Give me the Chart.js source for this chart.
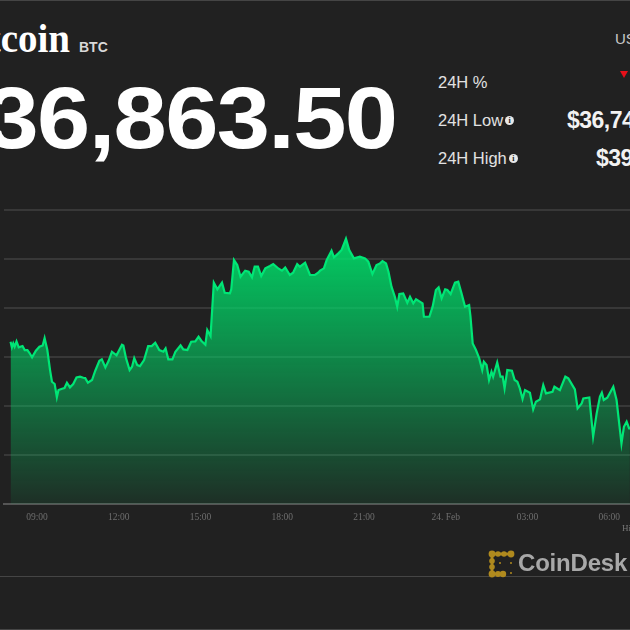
<!DOCTYPE html>
<html>
<head>
<meta charset="utf-8">
<title>Bitcoin BTC</title>
<script src="https://cdn.jsdelivr.net/npm/chart.js@4/dist/chart.umd.min.js"></script>
<style>
html, body { margin: 0; width: 630px; height: 630px; overflow: hidden; background: #212121; }
#pagina { position: relative; width: 630px; height: 630px; overflow: hidden; font-family: "Liberation Sans", sans-serif; }
#pagina div { position: absolute; white-space: nowrap; }
#grafiek { position: absolute; left: 0; top: 200px; }
.lijn { left: 0; width: 630px; height: 1px; background: #454545; }
.stat { left: 438px; font-size: 16.5px; color: #e2e2e2; line-height: 18px; }
.stat i { display: inline-block; width: 9px; height: 9px; line-height: 9px; margin-left: 2px; border-radius: 50%; background: #e8e8e8; color: #212121; font: bold 8px "Liberation Serif", serif; text-align: center; vertical-align: 3px; }
.waarde { font-size: 23px; font-weight: bold; color: #f2f2f2; letter-spacing: -0.5px; line-height: 24px; }
</style>
</head>
<body>
<div id="pagina">
    <div class="lijn" style="top:0"></div>
    <div id="naam" style="right:560px;top:15px;font:bold 39px/48px 'Liberation Serif',serif;color:#fff">Bitcoin</div>
    <div style="left:79px;top:39px;font:bold 14px/16px 'Liberation Sans',sans-serif;color:#d8d8d8">BTC</div>
    <div id="prijs" style="right:234px;top:70px;font:bold 87px/96px 'Liberation Sans',sans-serif;color:#fff;letter-spacing:-1.5px;transform:scaleX(1.1);transform-origin:right center">$36,863.50</div>
    <div style="left:615px;top:30px;font-size:15px;line-height:17px;color:#c8c8c8">USD</div>
    <div class="stat" style="top:73px">24H %</div>
    <div style="left:620px;top:71px;width:0;height:0;border-left:4px solid transparent;border-right:4px solid transparent;border-top:7px solid #e8101a"></div>
    <div class="stat" style="top:111px">24H Low<i>i</i></div>
    <div class="waarde" style="left:567px;top:108px">$36,74</div>
    <div class="stat" style="top:149px">24H High<i>i</i></div>
    <div class="waarde" style="left:596px;top:146px">$39</div>
    <canvas id="grafiek" width="640" height="350"></canvas>
    <div style="left:622px;top:523px;font:9px/10px 'Liberation Serif',serif;color:#777">Highcharts</div>
    <div class="lijn" style="top:576px"></div>
    <div class="lijn" style="top:629px"></div>
    <svg style="position:absolute;left:486px;top:549px" width="30" height="30" viewBox="0 0 30 30">
        <g fill="#b08a1e">
            <circle cx="6" cy="5" r="3.4"/><circle cx="12" cy="5" r="2.8"/><circle cx="18" cy="5" r="2.8"/><circle cx="25" cy="5" r="3.4"/>
            <rect x="6" y="3.6" width="19" height="2.8"/>
            <circle cx="6" cy="12" r="2.8"/><circle cx="6" cy="18" r="2.8"/><circle cx="6" cy="25" r="3.4"/><circle cx="12" cy="25" r="3"/><circle cx="17" cy="25" r="3.2"/>
            <rect x="4.6" y="5" width="2.8" height="20"/><rect x="6" y="23.6" width="11" height="2.8"/>
            <circle cx="14" cy="14" r="1"/><circle cx="25" cy="14" r="1"/><circle cx="25" cy="24" r="1"/>
        </g>
    </svg>
    <div style="left:518px;top:546px;font:bold 24px/34px 'Liberation Sans',sans-serif;color:#a8a8a8;letter-spacing:-0.2px">CoinDesk</div>
</div>
<script>
// uren sinds 00:00 op 23 feb, 24 = 24. Feb 00:00
const uren = [8.03,8.08,8.13,8.18,8.25,8.33,8.47,8.55,8.65,8.72,8.82,8.96,9.09,9.21,9.28,9.38,9.48,9.55,9.65,9.73,9.79,9.92,
    10.01,10.10,10.21,10.33,10.45,10.58,10.70,10.77,10.87,11.02,11.14,11.29,11.38,11.51,11.63,11.75,11.92,
    12.12,12.17,12.27,12.40,12.49,12.57,12.68,12.78,12.93,13.08,13.21,13.34,13.49,13.64,13.72,13.82,13.97,
    14.08,14.27,14.37,14.52,14.66,14.81,14.93,15.03,15.18,15.25,15.37,15.49,15.62,15.79,15.89,
    16.08,16.13,16.23,16.35,16.47,16.64,16.77,16.89,16.99,17.11,17.23,17.38,17.55,17.67,17.87,17.99,
    18.11,18.28,18.40,18.55,18.65,18.84,19.02,19.20,19.32,19.39,19.53,19.63,19.81,19.90,
    20.06,20.18,20.34,20.46,20.63,20.85,21.04,21.16,21.31,21.46,21.59,21.68,21.81,21.90,
    22.01,22.14,22.22,22.30,22.44,22.59,22.69,22.81,22.91,23.15,23.20,23.40,23.52,23.64,23.74,23.85,23.98,
    24.06,24.18,24.34,24.46,24.58,24.71,24.86,24.91,24.99,25.11,25.23,25.34,25.40,25.50,25.59,25.68,25.74,25.89,
    26.01,26.09,26.16,26.26,26.43,26.53,26.63,26.72,26.82,26.91,27.09,27.21,27.31,27.46,27.58,27.68,27.92,27.99,
    28.19,28.39,28.50,28.74,28.84,28.99,29.05,29.27,29.41,29.54,29.66,29.73,29.80,29.93,
    30.15,30.27,30.45,30.54,30.64,30.73,30.76];
const prijzen = [37987,37918,37967,37926,37991,37918,37934,37885,37885,37852,37795,37877,37926,37942,38032,37885,37640,37497,37469,37306,37395,37412,
    37420,37485,37428,37469,37550,37559,37546,37542,37485,37518,37632,37754,37771,37673,37754,37865,37820,
    37950,37942,37783,37640,37681,37787,37701,37689,37763,37934,37934,37975,37885,37865,37905,37771,37771,
    37865,37942,37893,37885,37987,37991,38048,38000,37950,38130,38057,38710,38628,38710,38587,
    38579,38628,38987,38926,38783,38857,38844,38775,38906,38906,38791,38885,38914,38938,38881,38857,
    38897,38804,38832,38938,38906,38955,38804,38804,38832,38857,38885,38987,39102,39020,
    39069,39110,39248,39110,39008,39028,39008,38967,38816,38926,38946,38975,38946,38844,
    38661,38530,38416,38571,38579,38465,38538,38457,38506,38457,38293,38293,38416,38620,38653,38518,38628,
    38620,38571,38710,38722,38579,38416,38436,38293,37967,37885,37783,37640,37742,37701,37518,37620,37559,37734,
    37559,37559,37416,37640,37632,37518,37497,37416,37285,37395,37363,37158,37252,37281,37456,37354,37375,37436,
    37395,37559,37538,37403,37171,37232,37293,37305,36824,37110,37314,37363,37273,37301,
    37436,37273,36742,36946,37007,36926,36946];
const tickUren = [9, 12, 15, 18, 21, 24, 27, 30];
const tickLabels = ['09:00', '12:00', '15:00', '18:00', '21:00', '24. Feb', '03:00', '06:00'];
const rasterWaarden = [36000, 36600, 37200, 37800, 38400, 39000, 39600];

function maakVulling(context) {
    const { ctx, chartArea } = context.chart;
    if (!chartArea) return 'rgba(0,220,105,0.5)';
    const g = ctx.createLinearGradient(0, chartArea.top, 0, chartArea.bottom);
    g.addColorStop(0, 'rgba(0,222,106,1)');
    g.addColorStop(1, 'rgba(0,222,106,0.08)');
    return g;
}

new Chart(document.getElementById('grafiek'), {
    type: 'line',
    data: {
        datasets: [{
            data: uren.map((u, i) => ({ x: u, y: prijzen[i] })),
            borderColor: '#00e676',
            borderWidth: 2.2,
            backgroundColor: maakVulling,
            fill: 'start',
            tension: 0,
            pointRadius: 0
        }]
    },
    options: {
        responsive: false,
        animation: false,
        layout: { padding: { left: 4, top: 10, right: 0, bottom: 0 } },
        plugins: { legend: { display: false }, tooltip: { enabled: false } },
        scales: {
            x: {
                type: 'linear',
                min: 7.79,
                max: 31.13,
                afterBuildTicks: s => { s.ticks = tickUren.map(v => ({ value: v })); },
                afterFit: s => { s.height = 46; },
                grid: { display: false },
                border: { color: '#555555', width: 2 },
                ticks: {
                    autoSkip: false,
                    maxRotation: 0,
                    padding: 0,
                    color: '#6e6e6e',
                    font: { family: 'Liberation Serif', size: 9.5 },
                    callback: v => tickLabels[tickUren.indexOf(v)]
                }
            },
            y: {
                min: 36000,
                max: 39600,
                afterBuildTicks: s => { s.ticks = rasterWaarden.map(v => ({ value: v })); },
                grid: { color: '#383838', lineWidth: 2, drawTicks: false },
                border: { display: false },
                ticks: { display: false }
            }
        }
    }
});
</script>
</body>
</html>
